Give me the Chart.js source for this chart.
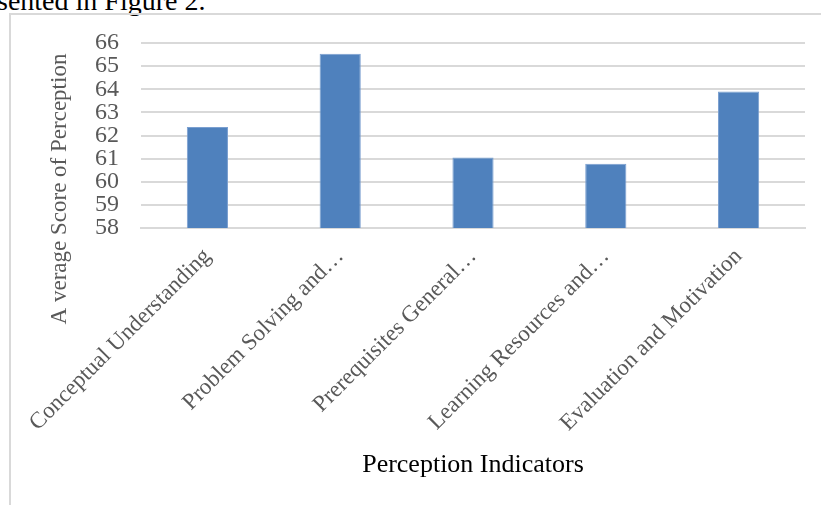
<!DOCTYPE html>
<html>
<head>
<meta charset="utf-8">
<script src="https://cdn.jsdelivr.net/npm/chart.js@4.4.1/dist/chart.umd.min.js"></script>
<style>
  html, body { margin: 0; padding: 0; background: #fff; width: 821px; height: 505px; overflow: hidden; }
  #caption {
    position: absolute; left: -3px; top: -15px;
    font-family: "Liberation Serif", serif; font-size: 28px; color: #000;
    white-space: nowrap;
  }
  #frame {
    position: absolute; left: 9px; top: 13px; width: 830px; height: 520px;
    border-left: 2px solid #d9d9d9; border-top: 2px solid #d9d9d9;
  }
  #wrap { position: absolute; left: 0; top: 0; width: 821px; height: 505px; }
</style>
</head>
<body>
<div id="caption">sented in Figure 2.</div>
<div id="frame"></div>
<div id="wrap"><canvas id="chart"></canvas></div>
<script>
// Perception indicators and their average scores
const categories = [
  "Conceptual Understanding",
  "Problem Solving and…",
  "Prerequisites General…",
  "Learning Resources and…",
  "Evaluation and Motivation"
];
const averageScores = [62.37, 65.53, 61.05, 60.78, 63.9];
const yMin = 58;
const yMax = 66;
const yStep = 1;
const yTitle = 'A verage Score of Perception';
const xTitle = 'Perception Indicators';

const serif = '"Liberation Serif", "Times New Roman", serif';

// Vertical axis title, drawn beside the tick labels
const yTitlePlugin = {
  id: 'yTitle',
  afterDraw(chart) {
    const ctx = chart.ctx;
    ctx.save();
    ctx.translate(60, 189);
    ctx.rotate(-Math.PI / 2);
    ctx.font = '23px ' + serif;
    ctx.fillStyle = '#595959';
    ctx.textAlign = 'center';
    ctx.textBaseline = 'middle';
    ctx.fillText(yTitle, 0, 0);
    ctx.restore();
  }
};

new Chart(document.getElementById('chart'), {
  type: 'bar',
  data: {
    labels: categories,
    datasets: [{
      data: averageScores,
      backgroundColor: '#4f81bd',
      borderColor: '#7a9fd0',
      borderWidth: 1,
      categoryPercentage: 1,
      barPercentage: 0.31
    }]
  },
  plugins: [yTitlePlugin],
  options: {
    responsive: true,
    maintainAspectRatio: false,
    animation: false,
    layout: { padding: { left: 0, top: 43, right: 16, bottom: 0 } },
    plugins: { legend: { display: false }, tooltip: { enabled: false } },
    scales: {
      x: {
        grid: { display: false, drawTicks: false },
        border: { display: true, color: '#d9d9d9', width: 2 },
        ticks: {
          color: '#595959',
          font: { family: serif, size: 23 },
          maxRotation: 45, minRotation: 45,
          autoSkip: false,
          padding: 15
        },
        title: {
          display: true,
          text: xTitle,
          color: '#000',
          font: { family: serif, size: 26 },
          padding: { top: 10, bottom: 24 }
        },
        afterFit: (s) => { s.height = 505 - 228; }
      },
      y: {
        min: yMin, max: yMax,
        grid: { color: '#d9d9d9', lineWidth: 2, drawTicks: false },
        border: { display: false },
        ticks: {
          stepSize: yStep,
          autoSkip: false,
          color: '#595959',
          font: { family: serif, size: 24 },
          padding: 22
        },
        afterFit: (s) => { s.width = 141; }
      }
    }
  }
});
</script>
</body>
</html>
